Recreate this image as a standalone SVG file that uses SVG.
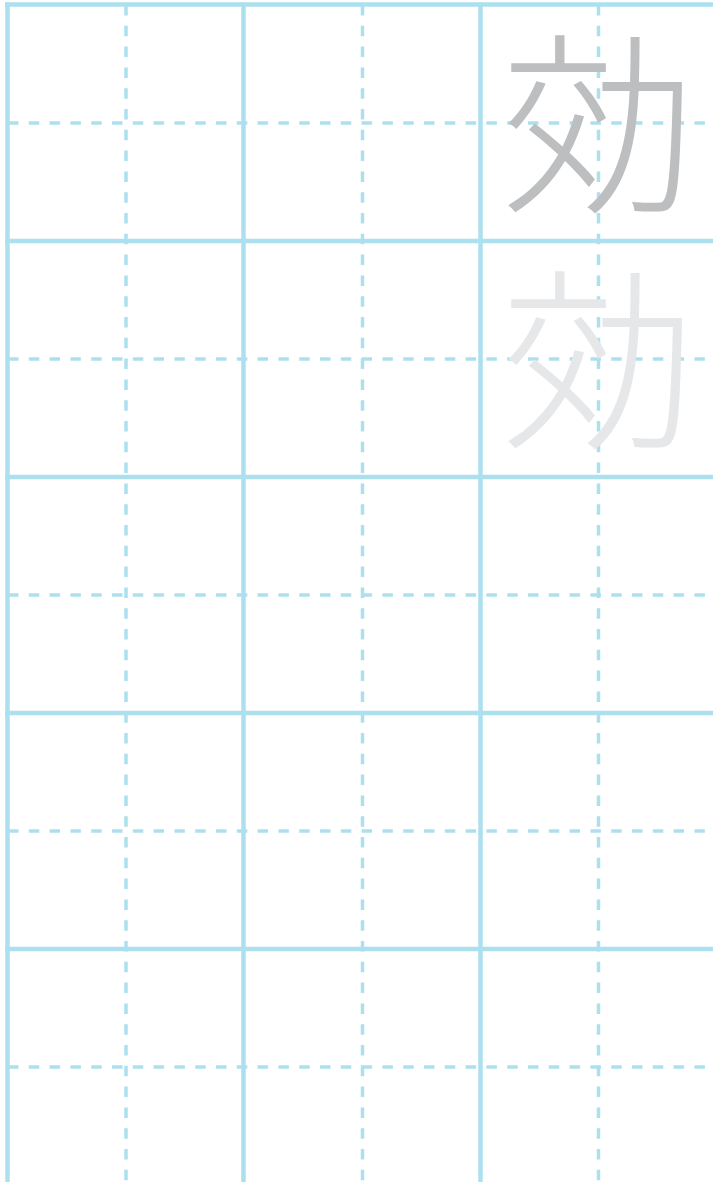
<svg xmlns="http://www.w3.org/2000/svg" width="713" height="1182" viewBox="0 0 713 1182">
<style>
.solid{stroke:#ade0ee;stroke-width:4.5;fill:none}
.dash{stroke:#ade0ee;stroke-width:3.5;stroke-dasharray:10.5 10.3;fill:none}
.ch{font-family:"Noto Sans CJK JP","Noto Sans CJK SC",sans-serif;font-size:194px;font-weight:300;text-anchor:middle}
</style>
<rect width="713" height="1182" fill="#ffffff"/>
<g id="grid">
<g id="dashed">
<line class="dash" x1="126" y1="5" x2="126" y2="1182"/>
<line class="dash" x1="362.5" y1="5" x2="362.5" y2="1182"/>
<line class="dash" x1="598.5" y1="5" x2="598.5" y2="1182"/>
<line class="dash" x1="8" y1="123" x2="713" y2="123"/>
<line class="dash" x1="8" y1="359" x2="713" y2="359"/>
<line class="dash" x1="8" y1="595" x2="713" y2="595"/>
<line class="dash" x1="8" y1="831" x2="713" y2="831"/>
<line class="dash" x1="8" y1="1067" x2="713" y2="1067"/>
</g>
<g id="solid">
<line class="solid" x1="7.5" y1="2.5" x2="7.5" y2="1182"/>
<line class="solid" x1="243.5" y1="2.5" x2="243.5" y2="1182"/>
<line class="solid" x1="480.5" y1="2.5" x2="480.5" y2="1182"/>
<line class="solid" x1="5" y1="4.5" x2="713" y2="4.5"/>
<line class="solid" x1="5" y1="241" x2="713" y2="241"/>
<line class="solid" x1="5" y1="477" x2="713" y2="477"/>
<line class="solid" x1="5" y1="713" x2="713" y2="713"/>
<line class="solid" x1="5" y1="949" x2="713" y2="949"/>
</g>
</g>
<g id="char1"><text class="ch" x="599" y="198" fill="#bcbec0">効</text></g>
<g id="char2"><text class="ch" x="599" y="434" fill="#e6e7e8">効</text></g>
</svg>
